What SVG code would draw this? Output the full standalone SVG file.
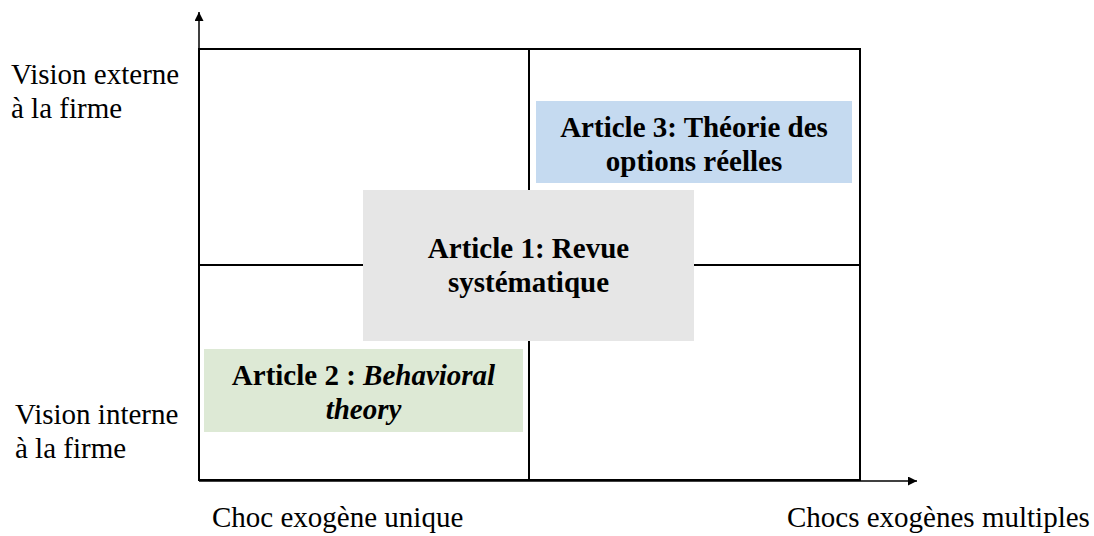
<svg xmlns="http://www.w3.org/2000/svg" width="1094" height="536" viewBox="0 0 1094 536">
<defs>
<marker id="arr" viewBox="0 0 10 10" refX="10" refY="5" markerWidth="10" markerHeight="9" markerUnits="userSpaceOnUse" orient="auto">
<path d="M0,0 L10,5 L0,10 Z" fill="#000"/>
</marker>
</defs>
<style>
.ax{stroke:#000;stroke-width:1.5;fill:none}
.grid{stroke:#000;stroke-width:2;fill:none}
text{font-family:'Liberation Serif','Times New Roman','DejaVu Serif',serif;font-size:29px;fill:#000}
.bt{font-weight:bold;text-anchor:middle}
</style>
<rect width="1094" height="536" fill="#fff"/>
<g id="connectors">
<line class="ax" x1="199" y1="481" x2="199" y2="12" marker-end="url(#arr)"/>
<line class="ax" x1="199" y1="481" x2="917" y2="481" marker-end="url(#arr)"/>
</g>
<g id="grid">
<rect class="grid" x="199" y="49" width="661" height="431"/>
<line class="grid" x1="529" y1="49" x2="529" y2="480"/>
<line class="grid" x1="199" y1="265" x2="860" y2="265"/>
</g>
<g id="labels" font-family="Liberation Serif, serif">
<text x="11" y="84">Vision externe</text>
<text x="11" y="118">à la firme</text>
<text x="15" y="424">Vision interne</text>
<text x="15" y="458">à la firme</text>
<text x="212" y="527">Choc exogène unique</text>
<text x="787" y="527">Chocs exogènes multiples</text>
</g>
<g id="article3">
<rect x="536" y="101" width="316" height="82" fill="#c5daf0"/>
<text class="bt" x="694" y="137">Article 3: Théorie des</text>
<text class="bt" x="694" y="171">options réelles</text>
</g>
<g id="article1">
<rect x="363" y="190" width="331" height="151" fill="#e6e6e6"/>
<text class="bt" x="528.5" y="258">Article 1: Revue</text>
<text class="bt" x="528.5" y="292">systématique</text>
</g>
<g id="article2">
<rect x="204" y="349" width="319" height="83" fill="#dde9d5"/>
<text class="bt" x="363.5" y="385">Article 2 : <tspan font-style="italic">Behavioral</tspan></text>
<text class="bt" x="363.5" y="419" font-style="italic">theory</text>
</g>
</svg>
